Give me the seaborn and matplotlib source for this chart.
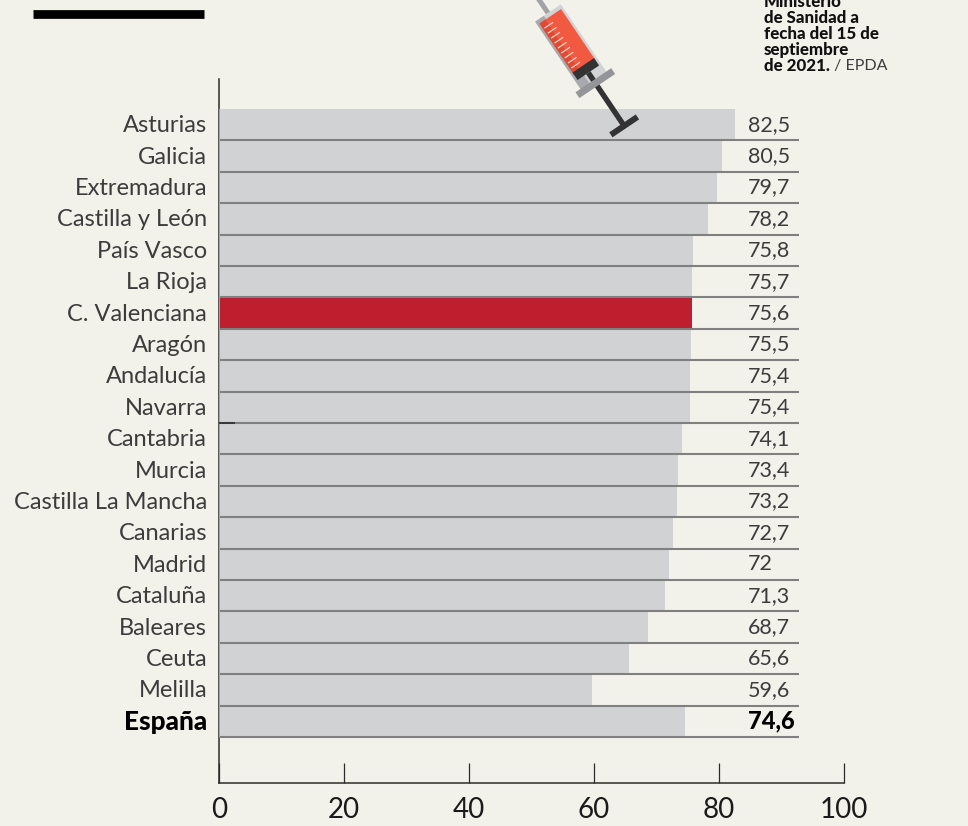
import matplotlib
matplotlib.use("Agg")
import matplotlib.pyplot as plt
import pandas as pd
import seaborn as sns
from matplotlib.lines import Line2D
from matplotlib.patches import Polygon
from matplotlib.transforms import Affine2D, ScaledTranslation

regions = ["Asturias", "Galicia", "Extremadura", "Castilla y León", "País Vasco", "La Rioja",
           "C. Valenciana", "Aragón", "Andalucía", "Navarra", "Cantabria", "Murcia",
           "Castilla La Mancha", "Canarias", "Madrid", "Cataluña", "Baleares", "Ceuta",
           "Melilla", "España"]
values = [82.5, 80.5, 79.7, 78.2, 75.8, 75.7, 75.6, 75.5, 75.4, 75.4, 74.1, 73.4,
          73.2, 72.7, 72, 71.3, 68.7, 65.6, 59.6, 74.6]
highlight = "C. Valenciana"
total = "España"
x_ticks = [0, 20, 40, 60, 80, 100]
source_bold = ["Ministerio", "de Sanidad a", "fecha del 15 de", "septiembre", "de 2021."]
source_tail = " / EPDA"

W, H = 968, 826
BG = "#f2f1ea"
GREY = "#d1d2d4"
RED = "#be1e2d"
LINE = "#808080"
INK = "#2b2b2b"
SOFT = "#3c3c3c"

sns.set_style("ticks", {"axes.facecolor": BG, "figure.facecolor": BG})
plt.rcParams["font.family"] = ["Lato", "DejaVu Sans"]

fig = plt.figure(figsize=(W / 100, H / 100), dpi=100, facecolor=BG)
ax = fig.add_axes([219 / W, 1 - 783 / H, 625 / W, 704 / H], facecolor=BG)

df = pd.DataFrame({"region": regions, "value": values})
palette = {r: (RED if r == highlight else GREY) for r in regions}
sns.barplot(data=df, x="value", y="region", hue="region", palette=palette, order=regions,
            dodge=False, legend=False, width=0.97, saturation=1, linewidth=0, ax=ax, zorder=2)

pitch = 31.4
ax.set_xlim(0, 100)
ax.set_ylim(19.5 + 46 / pitch, -0.5 - 30 / pitch)
ax.set_xlabel("")
ax.set_ylabel("")

sns.despine(ax=ax, top=True, right=True)
for side in ["left", "bottom"]:
    ax.spines[side].set_color(INK)
    ax.spines[side].set_linewidth(1.1)

# row separators, and the grey part of the left edge
ax.hlines([i + 0.5 for i in range(len(regions))], 0, 92.8, color=LINE, lw=1.5, zorder=3)
ax.vlines(0, -0.5, 19.5, color="#a5a5a5", lw=1.4, zorder=4)
ax.hlines(9.5, 0, 2.6, color=INK, lw=1.2, zorder=4)

ax.set_xticks(x_ticks)
ax.tick_params(axis="x", direction="in", length=14.4, width=0.9, color=INK, labelsize=20,
               labelcolor="#1a1a1a", pad=10)
ax.tick_params(axis="y", length=0, pad=8.5, labelsize=17, labelcolor=SOFT)
nudge = ScaledTranslation(0, 1 / 100, fig.dpi_scale_trans)
for lab in ax.get_yticklabels():
    lab.set_transform(lab.get_transform() + nudge)
    if lab.get_text() == total:
        lab.set_fontweight("black")
        lab.set_fontsize(18.8)
        lab.set_color("black")

for i, (r, v) in enumerate(zip(regions, values)):
    txt = f"{v:g}".replace(".", ",")
    if r == total:
        ax.text(84.6, i, txt, va="center", ha="left", fontsize=17, fontweight="black", color="black")
    else:
        ax.text(84.6, i, txt, va="center", ha="left", fontsize=15.5, color=SOFT)

# black rule at top left
fig.add_artist(Line2D([33 / W, 204 / W], [1 - 14 / H] * 2, color="black", lw=6.3, solid_capstyle="butt"))

# source note, its first line is cut by the top edge
for n, line in enumerate(source_bold):
    t = fig.text(764 / W, 1 - (2 + 16 * n) / H, line, fontsize=12.2, fontweight="black",
                 color="#111111", va="center", ha="left")
r = t.get_window_extent(fig.canvas.get_renderer())
fig.text(r.x1 / W, 1 - (2 + 16 * 4) / H, source_tail, fontsize=11.5,
         color=SOFT, va="center", ha="left")

# syringe drawing, local coords: s along the needle axis, t across it
syr = Affine2D.from_values(0.56, -0.83, 0.83, 0.56, 548, H - 13)


def part(s0, s1, t0, t1, color):
    fig.add_artist(Polygon([(s0, t0), (s1, t0), (s1, t1), (s0, t1)], closed=True, facecolor=color,
                           edgecolor="none", transform=syr))


part(-25, 0, -2.5, 2.5, "#a0a2a4")
part(0, 82, -15.5, 15.5, "#d1d3d4")
part(0, 82, -15.5, -5, "#a7a9ac")
part(4, 66, -13, 13, "#f15a40")
part(4, 66, -13, -6, "#e04a35")
part(63, 72, -13, 13, "#333333")
part(72, 135, -2.7, 2.7, "#333333")
part(81, 88, -21.5, 21.5, "#939598")
part(133, 139, -16, 16, "#333333")
for s in range(10, 62, 6):
    part(s, s + 1.2, -11.5, -1, "#f7d9d0")

fig.savefig("out.png", dpi=100, facecolor=BG)
